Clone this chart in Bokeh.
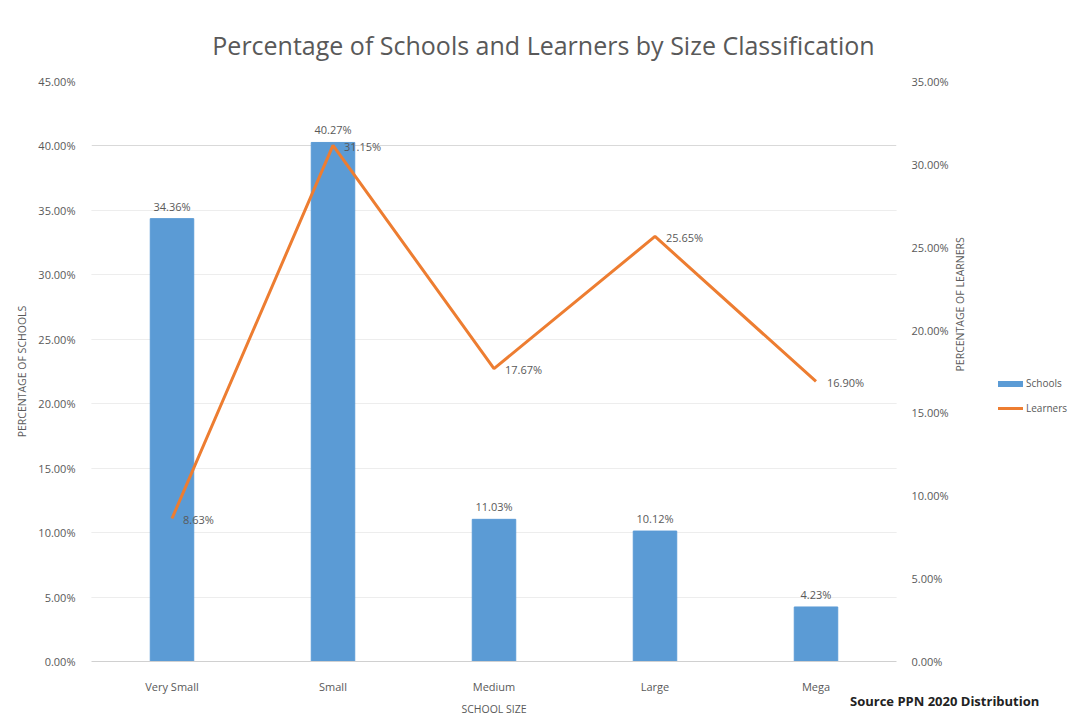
import math
from bokeh.plotting import figure
from bokeh.layouts import column
from bokeh.models import (ColumnDataSource, Range1d, LinearAxis, NumeralTickFormatter,
                          LabelSet, Grid, FixedTicker, Div)
from bokeh.core.properties import value
from bokeh.embed import file_html
from bokeh.resources import INLINE

categories = ["Very Small", "Small", "Medium", "Large", "Mega"]
schools_pct = [34.36, 40.27, 11.03, 10.12, 4.23]
learners_pct = [8.63, 31.15, 17.67, 25.65, 16.90]
schools_labels = ["34.36%", "40.27%", "11.03%", "10.12%", "4.23%"]
learners_labels = ["8.63%", "31.15%", "17.67%", "25.65%", "16.90%"]
left_ticks = [0, 0.05, 0.10, 0.15, 0.20, 0.25, 0.30, 0.35, 0.40, 0.45]
right_ticks = [0, 0.05, 0.10, 0.15, 0.20, 0.25, 0.30, 0.35]
series_names = ["Schools", "Learners"]

FONT = "Open Sans"
GREY = "#595959"
BLUE = "#5B9BD5"
ORANGE = "#ED7D31"

src = ColumnDataSource(dict(
    cat=categories,
    schools=[v / 100 for v in schools_pct],
    learners=[v / 100 for v in learners_pct],
    slab=schools_labels,
    llab=learners_labels,
))

title = Div(text="Percentage of Schools and Learners by Size Classification",
            width=1055, height=34, margin=(28, 0, 0, 16),
            styles={"font-family": FONT, "font-size": "25px", "color": GREY,
                    "text-align": "center", "white-space": "nowrap", "line-height": "34px"})

p = figure(frame_width=805, frame_height=580, x_range=categories, y_range=Range1d(0, 0.45),
           output_backend="svg", toolbar_location=None,
           min_border_left=91, min_border_right=10, min_border_top=19, min_border_bottom=10)
p.extra_y_ranges = {"learners": Range1d(0, 0.35)}
p.outline_line_color = None
p.background_fill_color = "white"
p.border_fill_color = "white"

# Left axis
p.yaxis.ticker = FixedTicker(ticks=left_ticks)
p.yaxis.formatter = NumeralTickFormatter(format="0.00%")
p.yaxis.axis_label = "PERCENTAGE OF SCHOOLS"
p.yaxis.axis_line_color = None
p.yaxis.major_tick_line_color = None
p.yaxis.minor_tick_line_color = None
p.yaxis.major_label_text_font = FONT
p.yaxis.major_label_text_font_size = "11px"
p.yaxis.major_label_text_color = GREY
p.yaxis.axis_label_text_font = FONT
p.yaxis.axis_label_text_font_size = "10.5px"
p.yaxis.axis_label_text_font_style = "normal"
p.yaxis.axis_label_text_color = GREY
p.yaxis.major_label_standoff = 10
p.yaxis.axis_label_standoff = 6

# Right axis
raxis = LinearAxis(y_range_name="learners", ticker=FixedTicker(ticks=right_ticks),
                   formatter=NumeralTickFormatter(format="0.00%"),
                   axis_label="PERCENTAGE OF LEARNERS")
raxis.axis_line_color = None
raxis.major_tick_line_color = None
raxis.minor_tick_line_color = None
raxis.major_label_text_font = FONT
raxis.major_label_text_font_size = "11px"
raxis.major_label_text_color = GREY
raxis.axis_label_text_font = FONT
raxis.axis_label_text_font_size = "10.5px"
raxis.axis_label_text_font_style = "normal"
raxis.axis_label_text_color = GREY
raxis.major_label_standoff = 9
raxis.axis_label_standoff = 8
if "axis_label_orientation" in raxis.properties():
    raxis.axis_label_orientation = math.pi / 2
p.add_layout(raxis, "right")

# X axis
p.xaxis.axis_label = "SCHOOL SIZE"
p.xaxis.axis_line_color = "#D0D0D0"
p.xaxis.major_tick_line_color = None
p.xaxis.minor_tick_line_color = None
p.xaxis.major_label_text_font = FONT
p.xaxis.major_label_text_font_size = "11px"
p.xaxis.major_label_text_color = GREY
p.xaxis.axis_label_text_font = FONT
p.xaxis.axis_label_text_font_size = "10.5px"
p.xaxis.axis_label_text_font_style = "normal"
p.xaxis.axis_label_text_color = GREY
p.xaxis.major_label_standoff = 11
p.xaxis.axis_label_standoff = 5

# Grids
p.xgrid.grid_line_color = None
p.ygrid.grid_line_color = "#D9D9D9"
p.ygrid.ticker = FixedTicker(ticks=left_ticks)
g2 = Grid(dimension=1, axis=raxis, grid_line_color="#EDEDED")
p.add_layout(g2)

# Bars
bars = p.vbar(x="cat", top="schools", width=0.27, source=src, color=BLUE)
# Line
line = p.line(x="cat", y="learners", source=src, y_range_name="learners",
              line_color=ORANGE, line_width=3)

# Data labels
p.add_layout(LabelSet(x="cat", y="schools", text="slab", source=src, y_offset=5,
                      text_align="center", text_font=value(FONT), text_font_size=value("11px"),
                      text_color=GREY))
p.add_layout(LabelSet(x="cat", y="learners", text="llab", source=src, y_range_name="learners",
                      x_offset=11, y_offset=-1, text_align="left", text_baseline="middle",
                      text_font=value(FONT), text_font_size=value("11px"), text_color=GREY))

# Legend (HTML, placed to the right of the right axis)
def legend_row(name, color, h):
    return ('<div style="display:flex;align-items:center;height:25px;white-space:nowrap">'
            f'<span style="display:inline-block;width:25px;height:{h}px;background:{color};'
            'margin-right:3px"></span>'
            f'<span>{name}</span></div>')

legend_html = legend_row(series_names[0], BLUE, 6) + legend_row(series_names[1], ORANGE, 3)
legend = Div(text=legend_html, width=73, height=50, margin=(-347, 0, 0, 998),
             styles={"font-family": FONT, "font-size": "10px", "color": GREY})

# Source note
note = Div(text="Source PPN 2020 Distribution", width=220, height=20,
           margin=(271, 0, 0, 850),
           styles={"font-family": FONT, "font-size": "13px", "font-weight": "bold",
                   "color": "#222222", "white-space": "nowrap"})

layout = column(title, p, legend, note)
open("out.html", "w").write(file_html(layout, INLINE))
